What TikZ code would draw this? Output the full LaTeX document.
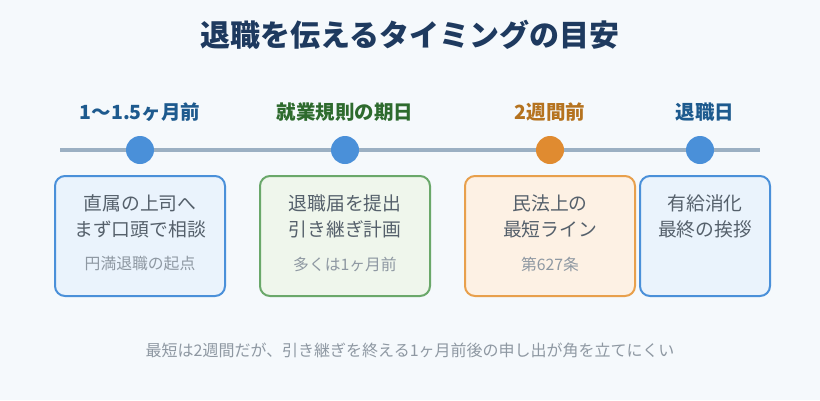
\documentclass[tikz,border=0pt]{standalone}
\usepackage{fontspec}
\setmainfont{Noto Sans CJK JP}
\usetikzlibrary{positioning}
\definecolor{bgcol}{HTML}{F5F9FC}
\definecolor{titlecol}{HTML}{1E3A5F}
\definecolor{navycol}{HTML}{1D5A8E}
\definecolor{greencol}{HTML}{2E6B2E}
\definecolor{ambercol}{HTML}{B5731F}
\definecolor{linecol}{HTML}{9BB0C3}
\definecolor{dotblue}{HTML}{4A90D9}
\definecolor{dotorange}{HTML}{E08B30}
\definecolor{fillblue}{HTML}{EAF3FC}
\definecolor{fillgreen}{HTML}{EFF6EC}
\definecolor{edgegreen}{HTML}{6AA86A}
\definecolor{fillorange}{HTML}{FDF1E4}
\definecolor{edgeorange}{HTML}{E8A04C}
\definecolor{bodycol}{HTML}{55606B}
\definecolor{notecol}{HTML}{8E98A2}
\tikzset{
  timeline/.style={line width=4pt, color=linecol},
  milestone/.style={circle, inner sep=0pt, minimum size=28pt},
  when/.style={font=\fontsize{19.5}{23}\selectfont\bfseries, inner sep=0pt},
  card/.style={rounded corners=10pt, line width=2pt, minimum height=120pt, inner sep=0pt},
  cardtext/.style={font=\fontsize{18.8}{26}\selectfont, text=bodycol, align=center, inner sep=0pt},
  cardnote/.style={font=\fontsize{15.8}{18}\selectfont, text=notecol, inner sep=0pt}
}
\begin{document}
\begin{tikzpicture}[x=1pt, y=-1pt]
			%%%%% START %%%%%
			
			\fill[bgcol] (0, 0) rectangle (820, 400);
			\useasboundingbox (0, 0) rectangle (820, 400);
			
			\node[font=\fontsize{30}{35}\selectfont\bfseries, text=titlecol, inner sep=0pt] (title) at (410, 35) {退職を伝えるタイミングの目安};
			
			\coordinate (tlstart) at (60, 150);
			\coordinate (tlend) at (760, 150);
			\draw[timeline] (tlstart) -- (tlend);
			
			\node[milestone, fill=dotblue] (m1) at (140, 150) {};
			\node[milestone, fill=dotblue] (m2) at (345, 150) {};
			\node[milestone, fill=dotorange] (m3) at (550, 150) {};
			\node[milestone, fill=dotblue] (m4) at (700, 150) {};
			
			\node[when, text=navycol] (w1) at (140, 112) {1〜1.5ヶ月前};
			\node[when, text=greencol] (w2) at (345, 112) {就業規則の期日};
			\node[when, text=ambercol] (w3) at (550, 112) {2週間前};
			\node[when, text=navycol] (w4) at (705, 112) {退職日};
			
			\node[card, draw=dotblue, fill=fillblue, minimum width=170pt] (c1) at (140, 236) {};
			\node[card, draw=edgegreen, fill=fillgreen, minimum width=170pt] (c2) at (345, 236) {};
			\node[card, draw=edgeorange, fill=fillorange, minimum width=170pt] (c3) at (550, 236) {};
			\node[card, draw=dotblue, fill=fillblue, minimum width=130pt] (c4) at (705, 236) {};
			
			\node[cardtext] (t1) at (140, 216) {直属の上司へ\\まず口頭で相談};
			\node[cardnote] (n1) at (140, 264) {円満退職の起点};
			
			\node[cardtext] (t2) at (345, 216) {退職届を提出\\引き継ぎ計画};
			\node[cardnote] (n2) at (345, 264) {多くは1ヶ月前};
			
			\node[cardtext] (t3) at (550, 216) {民法上の\\最短ライン};
			\node[cardnote] (n3) at (550, 264) {第627条};
			
			\node[cardtext] (t4) at (705, 216) {有給消化\\最終の挨拶};
			
			\node[font=\fontsize{16}{19}\selectfont, text=notecol, inner sep=0pt] (note) at (410, 350) {最短は2週間だが、引き継ぎを終える1ヶ月前後の申し出が角を立てにくい};
			
			%%%%% END %%%%%
		\end{tikzpicture}
\end{document}
